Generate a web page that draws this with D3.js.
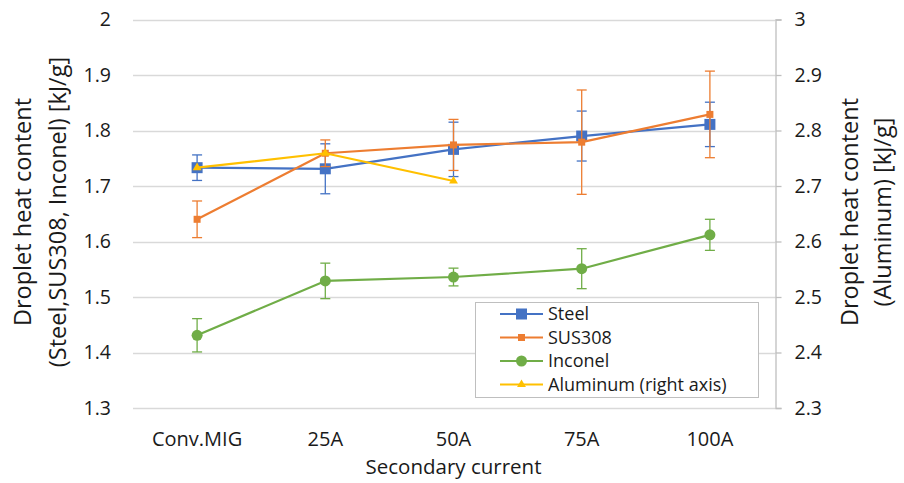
<!DOCTYPE html>
<html>
<head>
<meta charset="utf-8">
<script src="https://cdn.jsdelivr.net/npm/d3@7"></script>
<style>
  html, body { margin: 0; padding: 0; background: #fff; }
  svg text { font-family: "Open Sans", "Noto Sans", sans-serif; fill: #1a1a1a; }
</style>
</head>
<body>
<svg id="chart" width="904" height="483"></svg>
<script>
// Categories along the x axis
const categories = ["Conv.MIG", "25A", "50A", "75A", "100A"];

// Droplet heat content [kJ/g] and error half-widths
const steel      = [1.733, 1.731, 1.766, 1.790, 1.811];
const steelErr   = [0.023, 0.045, 0.049, 0.045, 0.040];
const sus308     = [1.640, 1.759, 1.774, 1.779, 1.829];
const sus308Err  = [0.033, 0.024, 0.046, 0.094, 0.078];
const inconel    = [1.431, 1.529, 1.536, 1.551, 1.612];
const inconelErr = [0.030, 0.032, 0.016, 0.036, 0.028];
// Aluminum is read on the right axis
const aluminum   = [2.733, 2.759, 2.709];

const leftTicks  = [1.3, 1.4, 1.5, 1.6, 1.7, 1.8, 1.9, 2.0];
const rightTicks = [2.3, 2.4, 2.5, 2.6, 2.7, 2.8, 2.9, 3.0];

const seriesNames = ["Steel", "SUS308", "Inconel", "Aluminum (right axis)"];

const svg = d3.select("#chart");
const plot = { left: 133, right: 774, top: 19.5, bottom: 408 };

const x = d3.scaleBand().domain(categories).range([plot.left, plot.right]);
const yL = d3.scaleLinear().domain([1.3, 2.0]).range([plot.bottom, plot.top]);
const yR = d3.scaleLinear().domain([2.3, 3.0]).range([plot.bottom, plot.top]);
const cx = c => x(c) + x.bandwidth() / 2;

const tickFont = 19.5;

// Horizontal gridlines
svg.append("g").selectAll("line").data(leftTicks).join("line")
  .attr("x1", plot.left).attr("x2", plot.right + 1)
  .attr("y1", d => Math.round(yL(d)) + 0.5).attr("y2", d => Math.round(yL(d)) + 0.5)
  .attr("stroke", "#d9d9d9").attr("stroke-width", 1.3);

// Left axis: labels only
const leftAxis = d3.axisLeft(yL).tickValues(leftTicks).tickSize(0).tickPadding(22)
  .tickFormat(d => d === 2 ? "2" : d3.format(".1f")(d));
const gL = svg.append("g").attr("transform", `translate(${plot.left},0)`).call(leftAxis);
gL.select(".domain").remove();
gL.selectAll("text").attr("font-size", tickFont).attr("fill", "#1a1a1a");

// Right axis with line and outward ticks
const rightAxis = d3.axisRight(yR).tickValues(rightTicks).tickSize(6).tickPadding(13)
  .tickFormat(d => d === 3 ? "3" : d3.format(".1f")(d));
const gR = svg.append("g").attr("transform", `translate(${plot.right + 1.5},0)`).call(rightAxis);
gR.select(".domain").attr("stroke", "#bfbfbf").attr("stroke-width", 1.3);
gR.selectAll(".tick line").attr("stroke", "#bfbfbf").attr("stroke-width", 1.3);
gR.selectAll("text").attr("font-size", tickFont).attr("fill", "#1a1a1a");

// Bottom axis: category labels
const bottomAxis = d3.axisBottom(x).tickSize(0).tickPadding(24);
const gB = svg.append("g").attr("transform", `translate(0,${plot.bottom})`).call(bottomAxis);
gB.select(".domain").remove();
gB.selectAll("text").attr("font-size", 20).attr("fill", "#1a1a1a");

// Axis titles
svg.append("text").attr("x", (plot.left + plot.right) / 2).attr("y", 474)
  .attr("text-anchor", "middle").attr("font-size", 20.5).text("Secondary current");

const leftTitle = svg.append("text").attr("transform", `translate(31,212) rotate(-90)`)
  .attr("text-anchor", "middle").attr("font-size", 23.5);
leftTitle.append("tspan").attr("x", 0).attr("y", 0).text("Droplet heat content");
leftTitle.append("tspan").attr("x", 0).attr("y", 35).text("(Steel,SUS308, Inconel)  [kJ/g]");

const rightTitle = svg.append("text").attr("transform", `translate(858,212) rotate(-90)`)
  .attr("text-anchor", "middle").attr("font-size", 23.5);
rightTitle.append("tspan").attr("x", 0).attr("y", 0).text("Droplet heat content");
rightTitle.append("tspan").attr("x", 0).attr("y", 33).text("(Aluminum) [kJ/g]");

// Series definitions
const series = [
  { name: seriesNames[0], vals: steel,   err: steelErr,   y: yL, color: "#4472c4", marker: "bigsquare" },
  { name: seriesNames[1], vals: sus308,  err: sus308Err,  y: yL, color: "#ed7d31", marker: "square" },
  { name: seriesNames[2], vals: inconel, err: inconelErr, y: yL, color: "#70ad47", marker: "circle" },
  { name: seriesNames[3], vals: aluminum, err: null,      y: yR, color: "#ffc000", marker: "triangle" }
];

function drawMarker(g, type, color, px, py) {
  if (type === "bigsquare") {
    g.append("rect").attr("x", px - 5.5).attr("y", py - 5.5).attr("width", 11).attr("height", 11).attr("fill", color);
  } else if (type === "square") {
    g.append("rect").attr("x", px - 3.5).attr("y", py - 3.5).attr("width", 7).attr("height", 7).attr("fill", color);
  } else if (type === "circle") {
    g.append("circle").attr("cx", px).attr("cy", py).attr("r", 5.5).attr("fill", color);
  } else if (type === "triangle") {
    g.append("path").attr("d", d3.symbol(d3.symbolTriangle, 34)()).attr("transform", `translate(${px},${py})`).attr("fill", color);
  }
}

series.forEach(s => {
  const g = svg.append("g");
  const pts = s.vals.map((v, i) => [cx(categories[i]), s.y(v)]);
  // Error bars
  if (s.err) {
    s.vals.forEach((v, i) => {
      const px = cx(categories[i]);
      const y1 = s.y(v + s.err[i]), y2 = s.y(v - s.err[i]);
      g.append("line").attr("x1", px).attr("x2", px).attr("y1", y1).attr("y2", y2)
        .attr("stroke", s.color).attr("stroke-width", 1.3);
      [y1, y2].forEach(yy => g.append("line").attr("x1", px - 5).attr("x2", px + 5)
        .attr("y1", yy).attr("y2", yy).attr("stroke", s.color).attr("stroke-width", 1.3));
    });
  }
  g.append("path").attr("d", d3.line()(pts)).attr("fill", "none")
    .attr("stroke", s.color).attr("stroke-width", 2.2).attr("stroke-linejoin", "round");
  pts.forEach(p => drawMarker(g, s.marker, s.color, p[0], p[1]));
});

// Legend
const lg = svg.append("g").attr("transform", "translate(475,302)");
lg.append("rect").attr("x", 0.5).attr("y", 0.5).attr("width", 283).attr("height", 95)
  .attr("fill", "#fff").attr("stroke", "#bfbfbf").attr("stroke-width", 1);
series.forEach((s, i) => {
  const yy = 12 + i * 23.5;
  lg.append("line").attr("x1", 25).attr("x2", 68).attr("y1", yy).attr("y2", yy)
    .attr("stroke", s.color).attr("stroke-width", 2.2);
  drawMarker(lg, s.marker, s.color, 46.5, yy);
  lg.append("text").attr("x", 73).attr("y", yy).attr("dy", "0.35em")
    .attr("font-size", 18).text(s.name);
});
</script>
</body>
</html>
